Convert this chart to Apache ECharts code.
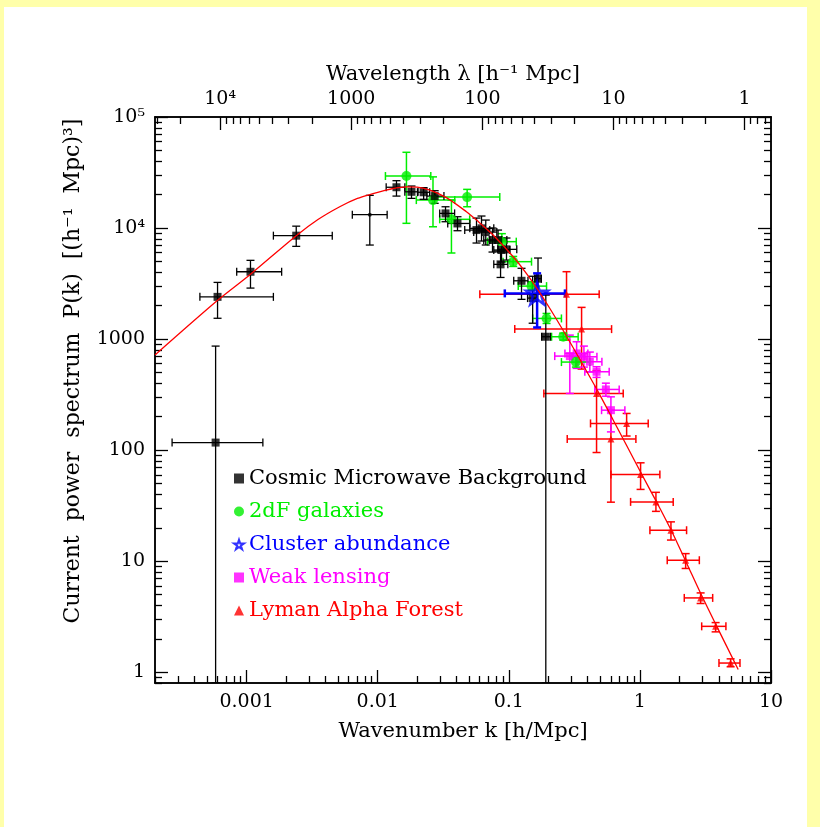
<!DOCTYPE html>
<html>
<head>
<meta charset="utf-8">
<title>Current power spectrum</title>
<script src="https://cdn.jsdelivr.net/npm/echarts@6/dist/echarts.min.js"></script>
<style>
  html, body { margin: 0; padding: 0; background: #ffffaa; }
  #chart { position: absolute; left: 4px; top: 7px; width: 803px; height: 820px; background: #ffffff; }
</style>
</head>
<body>
<div id="chart"></div>
<script>
// each row: k, P, kLow, kHigh, PLow, PHigh
const cmbPoints = [
  [6.0e-4, 2400, 4.4e-4, 1.6e-3, 1540, 3240],
  [1.07e-3, 4040, 8.4e-4, 1.85e-3, 2880, 5120],
  [2.39e-3, 8540, 1.6e-3, 4.5e-3, 6840, 10400],
  [5.8e-4, 117, 2.7e-4, 1.33e-3, 0.8, 865],
  [0.0139, 23300, 0.0116, 0.0161, 19400, 26700],
  [0.0181, 21200, 0.0161, 0.0203, 18500, 23900],
  [0.0224, 21000, 0.0201, 0.0249, 18150, 23100],
  [0.0272, 19400, 0.0237, 0.0320, 16700, 21700],
  [0.0329, 13550, 0.0297, 0.0386, 11400, 15550],
  [0.0406, 11000, 0.0342, 0.0505, 9460, 12650],
  [0.0567, 9590, 0.0461, 0.0716, 7330, 12300],
  [0.0619, 9940, 0.0504, 0.0768, 7640, 12830],
  [0.0667, 9200, 0.0540, 0.0810, 7040, 11800],
  [0.0751, 7800, 0.0644, 0.0885, 6080, 10000],
  [0.0828, 7800, 0.0716, 0.0966, 6210, 9590],
  [0.0880, 6340, 0.0768, 0.1018, 4940, 8130],
  [0.0960, 6430, 0.0824, 0.115, 5150, 8130],
  [0.0865, 4710, 0.0768, 0.0983, 3590, 6110],
  [0.125, 3350, 0.109, 0.140, 2280, 4340],
  [0.152, 2340, 0.139, 0.166, 1390, 3680],
  [0.167, 3500, 0.158, 0.177, 2580, 5370],
  [0.1915, 1050, 0.178, 0.208, 0.8, 2490]
];
// small dot of the CMB set
const cmbDots = [
  [8.7e-3, 13200, 6.4e-3, 1.18e-2, 7030, 19700]
];
const galaxyPoints = [
  [0.01656, 29400, 0.01145, 0.0254, 11030, 48100],
  [0.0264, 17850, 0.0197, 0.0387, 10270, 28900],
  [0.0365, 11980, 0.0297, 0.0503, 5960, 17850],
  [0.0481, 19000, 0.0277, 0.0853, 15550, 22300],
  [0.0885, 7540, 0.0688, 0.114, 6330, 8900],
  [0.108, 4980, 0.0904, 0.149, 4510, 5550],
  [0.149, 3000, 0.118, 0.194, 2760, 3280],
  [0.194, 1535, 0.152, 0.252, 1383, 1702],
  [0.260, 1050, 0.212, 0.338, 980, 1132],
  [0.325, 621, 0.252, 0.415, 560, 689]
];
const clusterPoints = [
  [0.1644, 2580, 0.0932, 0.268, 1273, 3908]
];
const lensingPoints = [
  [0.292, 703, 0.224, 0.380, 324, 1086],
  [0.329, 743, 0.268, 0.401, 545, 946],
  [0.374, 693, 0.303, 0.470, 560, 865],
  [0.415, 625, 0.336, 0.513, 505, 764],
  [0.467, 508, 0.380, 0.583, 452, 564],
  [0.550, 352, 0.453, 0.695, 306, 401],
  [0.601, 229, 0.510, 0.768, 146, 302]
];
const lymanPoints = [
  [0.2756, 2530, 0.0601, 0.489, 980, 4045],
  [0.359, 1230, 0.111, 0.608, 537, 1930],
  [0.467, 323, 0.185, 0.746, 95.2, 520],
  [0.792, 174, 0.420, 1.157, 134, 214],
  [0.601, 126, 0.279, 0.932, 34, 229],
  [1.012, 60.4, 0.601, 1.42, 44.3, 76.9],
  [1.325, 34.2, 0.849, 1.795, 28.1, 41.7],
  [1.725, 19.0, 1.192, 2.27, 15.5, 22.6],
  [2.233, 10.2, 1.616, 2.84, 8.6, 11.7],
  [2.905, 4.67, 2.18, 3.59, 4.16, 5.18],
  [3.78, 2.59, 2.96, 4.53, 2.31, 2.80],
  [4.92, 1.21, 4.01, 5.80, 1.12, 1.32]
];

const theoryK = [0.0002, 0.000604, 0.001054, 0.00239, 0.0035, 0.00513, 0.007, 0.0092, 0.011, 0.0131,
  0.0165, 0.0200, 0.0250, 0.0334, 0.0475, 0.0567, 0.0759, 0.108, 0.1365, 0.1725,
  0.2057, 0.260, 0.348, 0.468, 0.625, 0.792, 1.03, 1.342, 1.747, 2.245,
  2.96, 3.85, 5.62];
const theoryP = [718, 2244, 3777, 8530, 11930, 15560, 18500, 20400, 21600, 22700,
  23500, 23400, 22000, 18800, 14030, 11800, 8650, 5510, 3879, 2610,
  1885, 1194, 657, 354, 187, 110, 61, 34, 18.6, 9.9,
  4.9, 2.6, 1.06];

const kTicks = [0.001, 0.01, 0.1, 1, 10];
const kTickLabels = ['0.001', '0.01', '0.1', '1', '10'];
const lambdaTicks = [10000, 1000, 100, 10, 1];
const lambdaTickLabels = ['10⁴', '1000', '100', '10', '1'];
const pTicks = [1, 10, 100, 1000, 10000, 100000];
const pTickLabels = ['1', '10', '100', '1000', '10⁴', '10⁵'];

const kMin = 0.0002, kMax = 10, pMin = 0.8, pMax = 100000;

const FONT = '"DejaVu Serif", "Liberation Serif", serif';
const lg = Math.log10;
const toK = lambda => 2 * Math.PI / lambda;

// minor ticks at 2..9 x 10^n inside [lo, hi]
function minorTicks(lo, hi) {
  const out = [];
  for (let e = Math.floor(lg(lo)); e <= Math.ceil(lg(hi)); e++) {
    for (let m = 2; m <= 9; m++) {
      const v = m * Math.pow(10, e);
      if (v >= lo && v <= hi) out.push(v);
    }
  }
  return out;
}

function pickLabel(values, labels) {
  return function (v) {
    for (let i = 0; i < values.length; i++) {
      if (Math.abs(values[i] - v) < 1e-6) return labels[i];
    }
    return '';
  };
}

const lineStyle = { color: '#000', width: 1.5 };
const tickStyle = { color: '#000', width: 1.3 };

function makeAxis(position, min, max, tickVals, len, labels, margin) {
  const ax = {
    type: 'value',
    position: position,
    min: min,
    max: max,
    axisLine: { show: true, onZero: false, lineStyle: lineStyle },
    axisTick: { show: true, inside: true, length: len, customValues: tickVals, lineStyle: tickStyle },
    splitLine: { show: false },
    axisLabel: { show: false }
  };
  if (labels) {
    ax.axisLabel = {
      show: true,
      customValues: tickVals,
      formatter: pickLabel(tickVals, labels),
      color: '#000',
      fontFamily: FONT,
      fontSize: 19,
      margin: margin || 10
    };
  }
  return ax;
}

const xMin = lg(kMin), xMax = lg(kMax), yMin = lg(pMin), yMax = lg(pMax);
const kMajor = kTicks.map(lg);
const kMinor = minorTicks(kMin, kMax).map(lg);
const lamMajor = lambdaTicks.map(l => lg(toK(l)));
const lamMinor = minorTicks(toK(kMax), toK(kMin)).map(l => lg(toK(l)));
const pMajor = pTicks.map(lg);
const pMinor = minorTicks(pMin, pMax).map(lg);

const xBottom = makeAxis('bottom', xMin, xMax, kMajor, 13, kTickLabels, 10);
xBottom.name = 'Wavenumber k [h/Mpc]';
xBottom.nameLocation = 'middle';
xBottom.nameGap = 38;
xBottom.nameTextStyle = { color: '#000', fontFamily: FONT, fontSize: 21 };
const xTop = makeAxis('top', xMin, xMax, lamMajor, 13, lambdaTickLabels, 8);
xTop.name = 'Wavelength λ [h⁻¹ Mpc]';
xTop.nameLocation = 'middle';
xTop.nameGap = 30;
xTop.nameTextStyle = { color: '#000', fontFamily: FONT, fontSize: 21, padding: [0, 20, 0, 0] };

const toLog = rows => rows.map(r => r.map(lg));

function errorBars(color, width) {
  return function (params, api) {
    const c = api.coord([api.value(0), api.value(1)]);
    const xl = api.coord([api.value(2), api.value(1)]);
    const xh = api.coord([api.value(3), api.value(1)]);
    const yl = api.coord([api.value(0), api.value(4)]);
    const yh = api.coord([api.value(0), api.value(5)]);
    const cap = 4;
    const style = { stroke: color, lineWidth: width, fill: null };
    const seg = (x1, y1, x2, y2) => ({ type: 'line', shape: { x1, y1, x2, y2 }, style: style });
    return {
      type: 'group',
      children: [
        seg(xl[0], c[1], xh[0], c[1]),
        seg(xl[0], c[1] - cap, xl[0], c[1] + cap),
        seg(xh[0], c[1] - cap, xh[0], c[1] + cap),
        seg(c[0], yl[1], c[0], yh[1]),
        seg(c[0] - cap, yl[1], c[0] + cap, yl[1]),
        seg(c[0] - cap, yh[1], c[0] + cap, yh[1])
      ]
    };
  };
}

function barSeries(id, rows, color, width) {
  return {
    id: id,
    type: 'custom',
    renderItem: errorBars(color, width),
    data: toLog(rows),
    encode: { x: 0, y: 1 },
    clip: true,
    silent: true
  };
}

function pointSeries(name, rows, symbol, size, itemStyle) {
  return {
    name: name,
    type: 'scatter',
    data: toLog(rows).map(r => [r[0], r[1]]),
    symbol: symbol,
    symbolSize: size,
    itemStyle: itemStyle
  };
}

const STAR = 'path://M50,2 L61.2,36.6 L97.6,36.6 L68.2,58 L79.4,92.6 L50,71.2 L20.6,92.6 L31.8,58 L2.4,36.6 L38.8,36.6 Z';

const chart = echarts.init(document.getElementById('chart'));
chart.setOption({
  animation: false,
  backgroundColor: '#ffffff',
  textStyle: { fontFamily: FONT },
  grid: { left: 151, right: 36, top: 110, bottom: 144 },
  xAxis: [
    xBottom,
    makeAxis('bottom', xMin, xMax, kMinor, 7),
    xTop,
    makeAxis('top', xMin, xMax, lamMinor, 7)
  ],
  yAxis: [
    makeAxis('left', yMin, yMax, pMajor, 13, pTickLabels, 10),
    makeAxis('left', yMin, yMax, pMinor, 7),
    makeAxis('right', yMin, yMax, pMajor, 13),
    makeAxis('right', yMin, yMax, pMinor, 7)
  ],
  legend: {
    orient: 'vertical',
    left: 224,
    top: 456,
    itemWidth: 10,
    itemHeight: 10,
    itemGap: 12,
    textStyle: { fontFamily: FONT, fontSize: 21, lineHeight: 21 },
    data: [
      { name: 'Cosmic Microwave Background', textStyle: { color: '#000000' } },
      { name: '2dF galaxies', textStyle: { color: '#00ee00' } },
      { name: 'Cluster abundance', textStyle: { color: '#0000ff' } },
      { name: 'Weak lensing', textStyle: { color: '#ff00ff' } },
      { name: 'Lyman Alpha Forest', textStyle: { color: '#ff0000' } }
    ]
  },
  graphic: [{
    type: 'text',
    x: 69,
    y: 364,
    rotation: Math.PI / 2,
    style: {
      // slightly wider word gaps, as in the original plot
      text: 'Current  power  spectrum  P(k)  [(h⁻¹  Mpc)³]',
      fill: '#000',
      font: '22px ' + FONT,
      align: 'center',
      verticalAlign: 'middle'
    }
  }],
  series: [
    {
      name: 'theory',
      type: 'line',
      data: theoryK.map((k, i) => [lg(k), lg(theoryP[i])]),
      smooth: 0.3,
      showSymbol: false,
      lineStyle: { color: '#ff0000', width: 1.3 },
      clip: true,
      silent: true
    },
    barSeries('lymanBars', lymanPoints, '#ff0000', 1.5),
    pointSeries('Lyman Alpha Forest', lymanPoints, 'triangle', 7, { color: '#ff0000' }),
    barSeries('lensingBars', lensingPoints, '#ff00ff', 1.5),
    pointSeries('Weak lensing', lensingPoints, 'rect', 8, { color: '#ff00ff' }),
    barSeries('galaxyBars', galaxyPoints, '#00ee00', 1.5),
    pointSeries('2dF galaxies', galaxyPoints, 'circle', 10, { color: '#00ee00' }),
    barSeries('cmbBars', cmbPoints.concat(cmbDots), '#000000', 1.3),
    pointSeries('Cosmic Microwave Background', cmbPoints, 'rect', 8, { color: '#000000' }),
    pointSeries('cmbDots', cmbDots, 'circle', 4, { color: '#000000' }),
    barSeries('clusterBars', clusterPoints, '#0000ff', 2.5),
    pointSeries('Cluster abundance', clusterPoints, STAR, 22,
      { color: 'rgba(0,0,0,0)', borderColor: '#0000ff', borderWidth: 2.5 })
  ]
});
</script>
</body>
</html>
